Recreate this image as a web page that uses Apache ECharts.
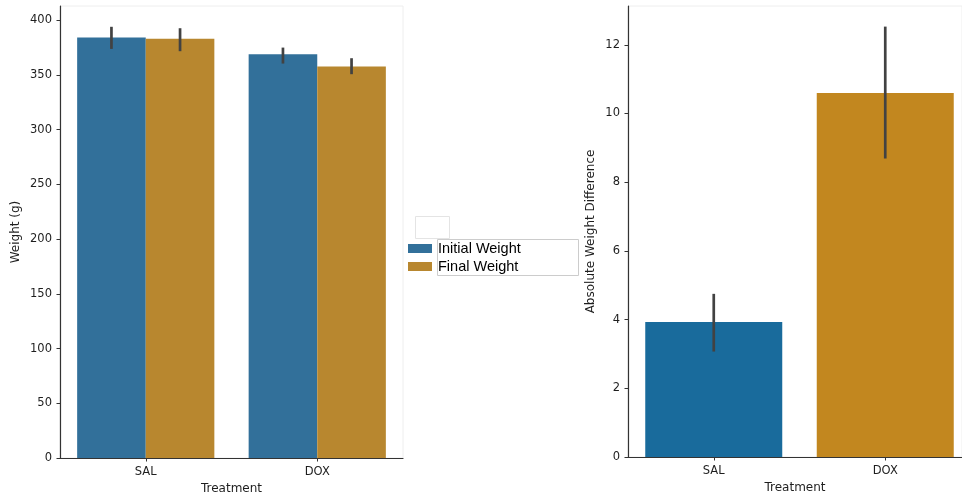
<!DOCTYPE html>
<html>
<head>
<meta charset="utf-8">
<script src="https://cdn.jsdelivr.net/npm/echarts@6/dist/echarts.min.js"></script>
<style>
  html, body { margin: 0; padding: 0; background: #fff; }
  #chart { width: 962px; height: 500px; }
</style>
</head>
<body>
<div id="chart"></div>
<script>
// Treatment groups
const treatments = ['SAL', 'DOX'];

// Mean body weight (g) and 95% CI bounds per treatment
const initialWeight = [384.2, 369.0];
const finalWeight = [383.0, 357.7];
const initialLow = [373.8, 360.4];
const initialHigh = [394.0, 375.0];
const finalLow = [371.7, 350.7];
const finalHigh = [392.7, 365.3];
const weightTicks = [0, 50, 100, 150, 200, 250, 300, 350, 400];

// Absolute weight difference (g) and 95% CI bounds per treatment
const absDiff = [3.93, 10.6];
const absDiffLow = [3.07, 8.69];
const absDiffHigh = [4.75, 12.53];
const diffTicks = [0, 2, 4, 6, 8, 10, 12];

const weightColors = ['#32709a', '#b8872f'];
const diffColors = ['#196b9c', '#c2871f'];

const tickFont = { fontFamily: 'DejaVu Sans', fontSize: 11.5, color: '#1e1e1e' };
const nameFont = { fontFamily: 'DejaVu Sans', fontSize: 12, color: '#1e1e1e' };
const axisLine = { show: true, onZero: false, lineStyle: { color: '#333', width: 1.2 } };

// Vertical CI whisker drawn at a bar centre; shift is the offset in category-band units
function errorBars(axisIdx, lows, highs, shift) {
  return {
    type: 'custom',
    xAxisIndex: axisIdx,
    yAxisIndex: axisIdx,
    z: 5,
    silent: true,
    data: lows.map((lo, i) => [i, lo, highs[i]]),
    encode: { x: 0, y: [1, 2] },
    renderItem(params, api) {
      const band = api.size([1, 0])[0];
      const a = api.coord([api.value(0), api.value(1)]);
      const b = api.coord([api.value(0), api.value(2)]);
      const x = a[0] + shift * band;
      return {
        type: 'line',
        shape: { x1: x, y1: a[1], x2: x, y2: b[1] },
        style: { stroke: '#424242', lineWidth: 2.7 }
      };
    }
  };
}

function valueAxis(gridIdx, max, ticks, name, gap) {
  return {
    type: 'value', gridIndex: gridIdx, min: 0, max: max,
    name: name, nameLocation: 'middle', nameGap: gap, nameTextStyle: nameFont,
    axisLine: axisLine,
    axisTick: { show: true, length: 3.5, customValues: ticks, lineStyle: { color: '#333' } },
    axisLabel: Object.assign({ margin: 8, customValues: ticks }, tickFont),
    splitLine: { show: false }
  };
}

const chart = echarts.init(document.getElementById('chart'), null, { renderer: 'canvas' });

// Right panel: the plot area runs slightly past the canvas edge, so its x axis is a
// numeric index axis (-0.5 .. a little under 1.5) labelled with the treatment names.
const rightXMax = 1.4475;

chart.setOption({
  backgroundColor: '#fff',
  animation: false,
  grid: [
    { left: 60, width: 343, top: 6, bottom: 42, show: true, borderColor: '#eeeeee', borderWidth: 1 },
    { left: 628, right: 0, top: 6, bottom: 43, show: true, borderColor: '#eeeeee', borderWidth: 1 }
  ],
  xAxis: [
    {
      type: 'category', gridIndex: 0, data: treatments,
      name: 'Treatment', nameLocation: 'middle', nameGap: 24, nameTextStyle: nameFont,
      axisLine: axisLine,
      axisTick: { show: true, length: 3.5, alignWithLabel: true, lineStyle: { color: '#333' } },
      axisLabel: Object.assign({ margin: 8 }, tickFont)
    },
    {
      type: 'value', gridIndex: 1, min: -0.5, max: rightXMax,
      name: 'Treatment', nameLocation: 'middle', nameGap: 24, nameTextStyle: nameFont,
      axisLine: axisLine,
      splitLine: { show: false },
      axisTick: { show: true, length: 3.5, customValues: [0, 1], lineStyle: { color: '#333' } },
      axisLabel: Object.assign({ margin: 8, customValues: [0, 1],
        formatter: v => treatments[Math.round(v)] }, tickFont)
    }
  ],
  yAxis: [
    valueAxis(0, 413, weightTicks, 'Weight (g)', 38),
    valueAxis(1, 13.13, diffTicks, 'Absolute Weight Difference', 31)
  ],
  legend: {
    data: ['Initial Weight', 'Final Weight'],
    orient: 'vertical',
    left: 408, top: 241,
    itemWidth: 24, itemHeight: 9, itemGap: 3,
    icon: 'rect',
    padding: 0,
    textStyle: { fontFamily: 'Liberation Sans', fontSize: 14.5, color: '#000', padding: [0, 0, 0, 1] }
  },
  graphic: [
    { type: 'rect', z: -1, shape: { x: 415.5, y: 216.5, width: 34, height: 22 }, style: { fill: '#fff', stroke: '#e4e4e4', lineWidth: 1 } },
    { type: 'rect', z: -1, shape: { x: 437.5, y: 239.5, width: 141, height: 36 }, style: { fill: '#fff', stroke: '#cccccc', lineWidth: 1 } }
  ],
  series: [
    { name: 'Initial Weight', type: 'bar', xAxisIndex: 0, yAxisIndex: 0, data: initialWeight,
      barGap: '0%', barCategoryGap: '20%', itemStyle: { color: weightColors[0] } },
    { name: 'Final Weight', type: 'bar', xAxisIndex: 0, yAxisIndex: 0, data: finalWeight,
      barGap: '0%', barCategoryGap: '20%', itemStyle: { color: weightColors[1] } },
    errorBars(0, initialLow, initialHigh, -0.2),
    errorBars(0, finalLow, finalHigh, 0.2),
    { name: 'Absolute Weight Difference', type: 'bar', xAxisIndex: 1, yAxisIndex: 1,
      barWidth: 137,
      data: absDiff.map((v, i) => ({ value: [i, v], itemStyle: { color: diffColors[i] } })) },
    errorBars(1, absDiffLow, absDiffHigh, 0)
  ]
});
</script>
</body>
</html>
